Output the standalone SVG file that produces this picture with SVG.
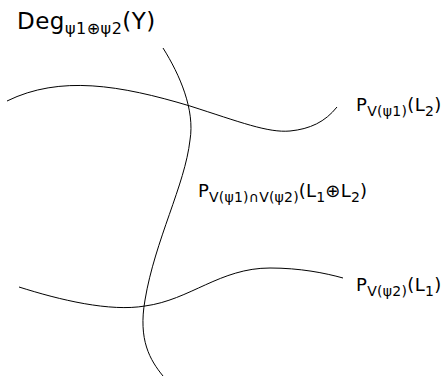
<svg xmlns="http://www.w3.org/2000/svg" width="442" height="377" viewBox="0 0 442 377">
<style>
.c{fill:none;stroke:#000;stroke-width:1}
.t{font-family:"DejaVu Sans",sans-serif;fill:#000;font-size:18px}
.s{font-size:14px}
</style>
<rect width="442" height="377" fill="#fff"/>
<g id="connectors">
<path class="c" d="M7,101 C60,75 120,85 190,106 C240,122 268,133 290,131 C310,129 325,122 337,107"/>
<path class="c" d="M163,48 C180,75 195,110 190,140 C185,185 155,240 145,300 C138,340 150,360 163,376"/>
<path class="c" d="M19,287 C60,300 110,312 145,306 C190,300 220,268 270,268 C300,268 325,273 343,278"/>
</g>
<g id="deg"><text class="t" x="17" y="29" style="font-size:23px;letter-spacing:0.5px">Deg<tspan style="font-size:16px" dy="5">ψ1⊕ψ2</tspan><tspan dy="-5">(Y)</tspan></text></g>
<g id="p1"><text class="t" x="356" y="111" style="letter-spacing:0.3px">P<tspan class="s" dy="5">V(ψ1)</tspan><tspan dy="-5">(L</tspan><tspan class="s" dy="5">2</tspan><tspan dy="-5">)</tspan></text></g>
<g id="p12"><text class="t" x="198" y="197" style="letter-spacing:0.2px">P<tspan class="s" dy="5">V(ψ1)∩V(ψ2)</tspan><tspan dy="-5">(L</tspan><tspan class="s" dy="5">1</tspan><tspan dy="-5">⊕L</tspan><tspan class="s" dy="5">2</tspan><tspan dy="-5">)</tspan></text></g>
<g id="p2"><text class="t" x="356" y="291" style="letter-spacing:0.3px">P<tspan class="s" dy="5">V(ψ2)</tspan><tspan dy="-5">(L</tspan><tspan class="s" dy="5">1</tspan><tspan dy="-5">)</tspan></text></g>
</svg>
